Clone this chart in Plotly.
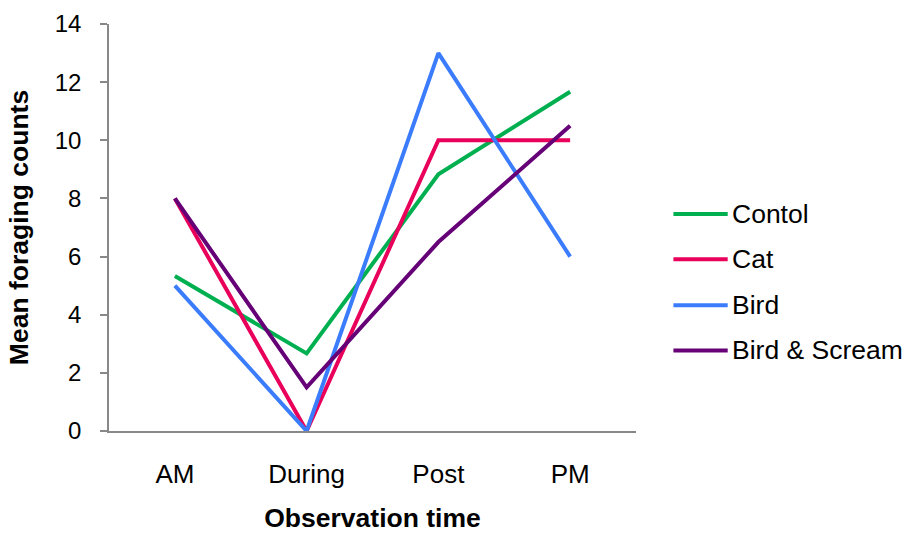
import plotly.graph_objects as go

categories = ["AM", "During", "Post", "PM"]
control = [5.33, 2.67, 8.83, 11.67]
cat = [8, 0, 10, 10]
bird = [5, 0, 13, 6]
bird_scream = [8, 1.5, 6.5, 10.5]

series = [
    ("Contol", control, "#00b050"),
    ("Cat", cat, "#e8005a"),
    ("Bird", bird, "#3a7cfc"),
    ("Bird & Scream", bird_scream, "#660077"),
]

fig = go.Figure()
for name, vals, color in series:
    fig.add_trace(go.Scatter(
        x=categories, y=vals, mode="lines", name=name,
        line=dict(color=color, width=4), showlegend=False,
    ))

# legend drawn by hand (line sample + label) next to the plot
legend_y = [0.533, 0.422, 0.309, 0.198]
for (name, _, color), ly in zip(series, legend_y):
    fig.add_shape(type="line", xref="paper", yref="paper",
                  x0=1.071, x1=1.174, y0=ly, y1=ly,
                  line=dict(color=color, width=4))
    fig.add_annotation(xref="paper", yref="paper", x=1.178, y=ly,
                       text=name, showarrow=False, xanchor="left", yanchor="middle",
                       font=dict(size=26.5))

fig.update_layout(
    width=905, height=533,
    margin=dict(l=109, r=269, t=24, b=102, autoexpand=False),
    plot_bgcolor="white", paper_bgcolor="white",
    font=dict(family="Liberation Sans, Arial, sans-serif", size=25, color="black"),
    showlegend=False,
    xaxis=dict(
        type="category", range=[-0.5, 3.5], automargin=False,
        showline=True, linecolor="#888888", linewidth=1.5,
        showgrid=False, ticks="", ticklabelstandoff=19,
        tickfont=dict(size=26),
        title=dict(text="<b>Observation time</b>", font=dict(size=26.5), standoff=25),
    ),
    yaxis=dict(
        range=[0, 14], dtick=2, automargin=False,
        showline=True, linecolor="#888888", linewidth=1.5,
        showgrid=False, zeroline=False,
        ticks="outside", ticklen=7, tickcolor="#888888", tickwidth=1.5,
        ticklabelstandoff=14,
        tickfont=dict(size=24),
        title=dict(text="<b>Mean foraging counts</b>", font=dict(size=26.5), standoff=18),
    ),
)

# remove the default 8px page margin so the figure fills the window exactly
fig.write_html(
    "out.html",
    config={"displayModeBar": False},
    post_script="document.body.style.margin='0px';document.body.style.overflow='hidden';",
)
